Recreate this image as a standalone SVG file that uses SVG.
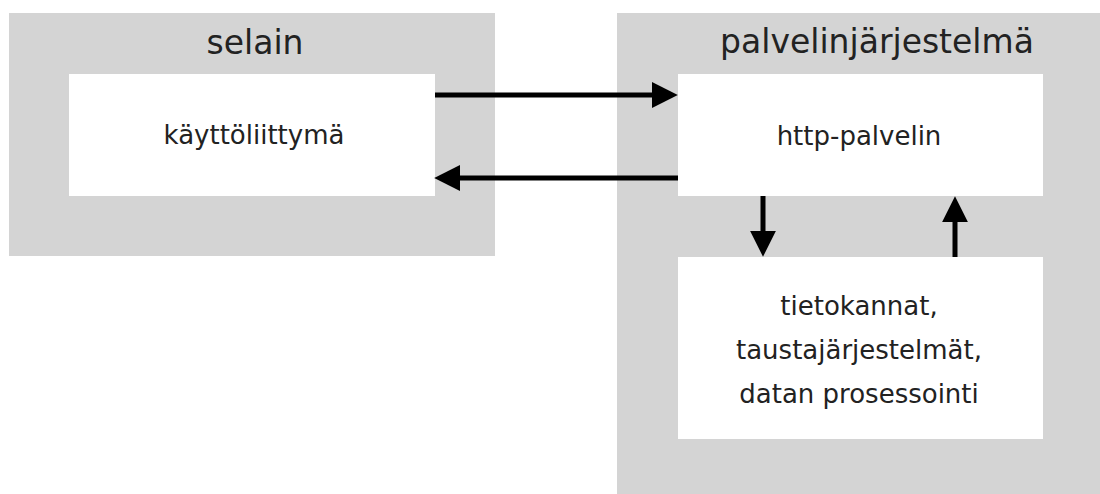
<svg xmlns="http://www.w3.org/2000/svg" width="1100" height="494" viewBox="0 0 1100 494">
<style>
.group{fill:#d4d4d4}
.box{fill:#ffffff}
.title{font-family:"DejaVu Sans",Verdana,sans-serif;font-size:33px;fill:#222;text-anchor:middle}
.label{font-family:"DejaVu Sans",Verdana,sans-serif;font-size:26px;fill:#222;text-anchor:middle}
.conn{stroke:#000;stroke-width:5;fill:none;marker-end:url(#arrow)}
</style>
<defs>
<marker id="arrow" markerUnits="userSpaceOnUse" markerWidth="26" markerHeight="26" viewBox="0 0 25 25" refX="5" refY="12.5" orient="auto">
<path d="M0,0 L25,12.5 L0,25 z" fill="#000"/>
</marker>
</defs>
<rect width="1100" height="494" fill="#ffffff"/>
<g id="selain">
<rect class="group" x="9" y="13" width="486" height="243"/>
<text class="title" x="255" y="54">selain</text>
</g>
<g id="palvelinjarjestelma">
<rect class="group" x="617" y="13" width="483" height="481"/>
<text class="title" x="877" y="53">palvelinjärjestelmä</text>
</g>
<g id="kayttoliittyma">
<rect class="box" x="69" y="74" width="366" height="122"/>
<text class="label" x="254" y="144">käyttöliittymä</text>
</g>
<g id="http-palvelin">
<rect class="box" x="678" y="74" width="365" height="122"/>
<text class="label" x="859" y="145">http-palvelin</text>
</g>
<g id="tietokannat">
<rect class="box" x="678" y="257" width="365" height="182"/>
<text class="label" x="859" y="315">tietokannat,</text>
<text class="label" x="859" y="359">taustajärjestelmät,</text>
<text class="label" x="859" y="403">datan prosessointi</text>
</g>
<g id="connectors">
<line class="conn" x1="435" y1="95" x2="657" y2="95"/>
<line class="conn" x1="678" y1="178" x2="455" y2="178"/>
<line class="conn" x1="763" y1="196" x2="763" y2="236"/>
<line class="conn" x1="955" y1="257" x2="955" y2="217"/>
</g>
</svg>
